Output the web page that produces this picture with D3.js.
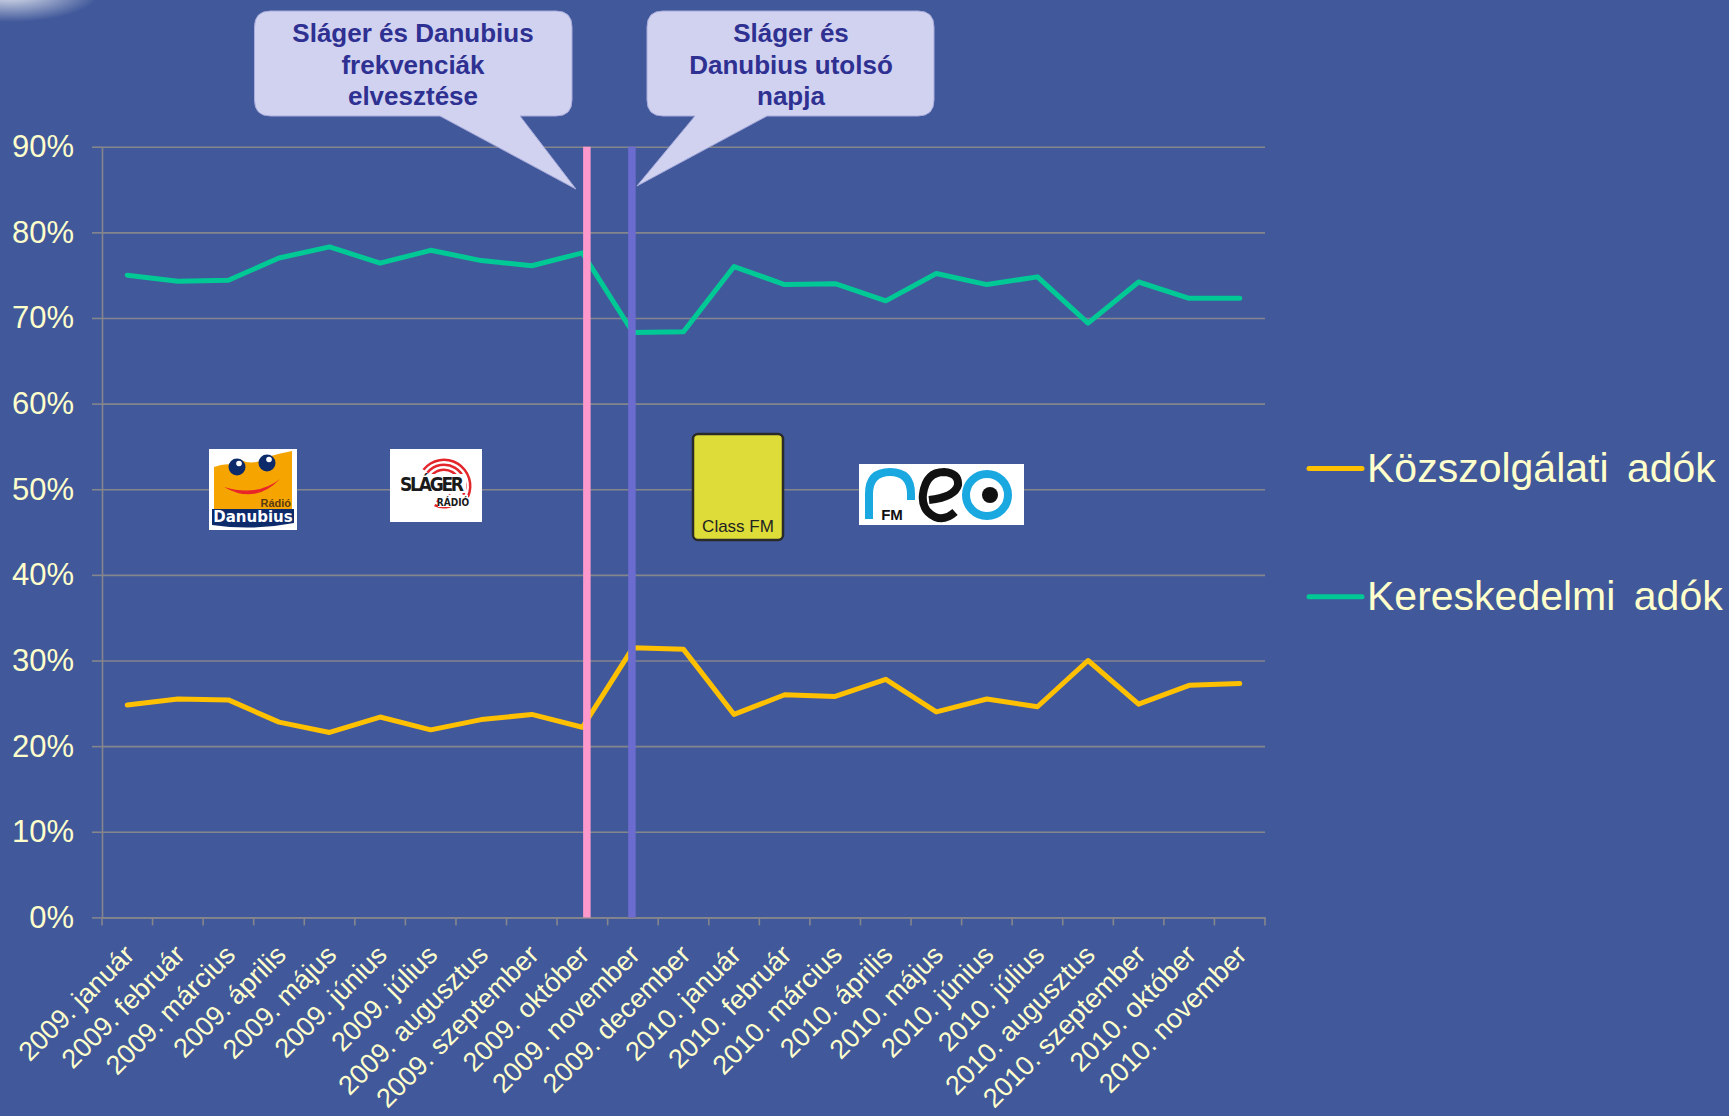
<!DOCTYPE html>
<html>
<head>
<meta charset="utf-8">
<script src="https://cdn.jsdelivr.net/npm/d3@7"></script>
<style>
	html, body { margin: 0; padding: 0; background: #41599b; overflow: hidden; }
	svg { display: block; }
	text { font-family: 'Liberation Sans', Arial, sans-serif; }
</style>
</head>
<body>
<div id="chart"></div>
<script>
var categories = [
	'2009. január', '2009. február', '2009. március', '2009. április', '2009. május', '2009. június',
	'2009. július', '2009. augusztus', '2009. szeptember', '2009. október', '2009. november', '2009. december',
	'2010. január', '2010. február', '2010. március', '2010. április', '2010. május', '2010. június',
	'2010. július', '2010. augusztus', '2010. szeptember', '2010. október', '2010. november'
]
var kozszolgalati = [24.8, 25.5, 25.4, 22.8, 21.6, 23.4, 21.9, 23.1, 23.7, 22.2, 31.5, 31.3,
	23.7, 26.0, 25.8, 27.8, 24.0, 25.5, 24.6, 30.0, 24.9, 27.1, 27.3]
var kereskedelmi = [75.0, 74.3, 74.4, 77.0, 78.3, 76.4, 77.9, 76.7, 76.1, 77.6, 68.3, 68.4,
	76.0, 73.9, 74.0, 72.0, 75.2, 73.9, 74.8, 69.4, 74.2, 72.3, 72.3]
var yTickValues = [0, 10, 20, 30, 40, 50, 60, 70, 80, 90]
var yTickLabels = ['0%', '10%', '20%', '30%', '40%', '50%', '60%', '70%', '80%', '90%']
var seriesNames = ['Közszolgálati adók', 'Kereskedelmi adók']
var eventMonths = ['2009. október', '2009. november']
var calloutLines = [
	['Sláger és Danubius', 'frekvenciák', 'elvesztése'],
	['Sláger és', 'Danubius utolsó', 'napja']
]

var width = 1729,
	height = 1116,
	plot = {left: 102, right: 1265, top: 146.7, bottom: 917.4},
	labelColor = '#ffffcc',
	gridColor = '#85858c',
	seriesColors = ['#ffc000', '#00c995'],
	eventColors = ['#ff99cc', '#6b6bd0'],
	svg, x, y, defs

svg = d3.select('#chart').append('svg')
	.attr('width', width)
	.attr('height', height)

defs = svg.append('defs')

var glow = defs.append('radialGradient').attr('id', 'glow')
glow.append('stop').attr('offset', 0).attr('stop-color', '#ffffff').attr('stop-opacity', 0.9)
glow.append('stop').attr('offset', 1).attr('stop-color', '#ffffff').attr('stop-opacity', 0)

svg.append('rect')
	.attr('width', width)
	.attr('height', height)
	.attr('fill', '#41599b')

svg.append('ellipse')
	.attr('cx', 10)
	.attr('cy', -8)
	.attr('rx', 90)
	.attr('ry', 30)
	.attr('fill', 'url(#glow)')

x = d3.scaleBand()
	.domain(categories)
	.range([plot.left, plot.right])

y = d3.scaleLinear()
	.domain([0, 90])
	.range([plot.bottom, plot.top])

function cx(c) { return x(c) + x.bandwidth() / 2 }

// gridlines
svg.append('g')
	.attr('transform', 'translate(' + plot.left + ',0)')
	.call(d3.axisLeft(y).tickValues(yTickValues).tickSize(-(plot.right - plot.left)).tickFormat(''))
	.call(function(g) {
		g.select('.domain').remove()
		g.selectAll('line').attr('stroke', gridColor).attr('stroke-width', 1.6)
	})

// y axis with labels
svg.append('g')
	.attr('transform', 'translate(' + plot.left + ',0)')
	.call(d3.axisLeft(y).tickValues(yTickValues).tickFormat(function(d, i) { return yTickLabels[i] })
		.tickSize(10).tickSizeOuter(0).tickPadding(18))
	.call(function(g) {
		g.select('.domain').attr('stroke', gridColor).attr('stroke-width', 1.6)
		g.selectAll('line').attr('stroke', gridColor).attr('stroke-width', 1.6)
		g.selectAll('text')
			.attr('fill', labelColor)
			.style('font-size', '31px')
	})

// x axis
svg.append('g')
	.attr('transform', 'translate(0,' + plot.bottom + ')')
	.call(d3.axisBottom(x).tickSize(0).tickSizeOuter(0))
	.call(function(g) {
		g.select('.domain').attr('stroke', gridColor).attr('stroke-width', 1.6)
		g.selectAll('text')
			.attr('y', 0)
			.attr('dy', null)
			.attr('transform', 'translate(8.5,39) rotate(-45)')
			.attr('fill', labelColor)
			.style('text-anchor', 'end')
			.style('font-size', '27px')
	})

var boundaries = categories.map(function(c) { return x(c) }).concat([x.range()[1]])
svg.append('g').selectAll('line')
	.data(boundaries)
	.join('line')
	.attr('x1', function(d) { return d })
	.attr('x2', function(d) { return d })
	.attr('y1', plot.bottom)
	.attr('y2', plot.bottom + 8)
	.attr('stroke', gridColor)
	.attr('stroke-width', 1.6)

// logos
var logos = svg.append('g')

function danubius(gx, gy) {
	var g = logos.append('g').attr('transform', 'translate(' + gx + ',' + gy + ')')
	g.append('rect').attr('width', 88).attr('height', 81).attr('fill', '#ffffff')
	g.append('path')
		.attr('d', 'M5,18 Q16,14 24,16 L30,10 Q44,18 58,8 Q72,4 83,2 L83,64 L5,64 Z')
		.attr('fill', '#f6a500')
	g.append('circle').attr('cx', 28).attr('cy', 18).attr('r', 8.5).attr('fill', '#0d2a6b')
	g.append('circle').attr('cx', 58).attr('cy', 14).attr('r', 8.5).attr('fill', '#0d2a6b')
	g.append('circle').attr('cx', 30).attr('cy', 14.5).attr('r', 2.8).attr('fill', '#ffffff')
	g.append('circle').attr('cx', 60).attr('cy', 10.5).attr('r', 2.8).attr('fill', '#ffffff')
	g.append('path')
		.attr('d', 'M15,38 Q46,56 71,30 Q48,48 15,38 Z')
		.attr('fill', '#e8262a')
	g.append('text')
		.attr('x', 82).attr('y', 58)
		.attr('text-anchor', 'end')
		.attr('fill', '#5a3a10')
		.style('font-size', '11px')
		.style('font-weight', 'bold')
		.text('Rádió')
	g.append('path')
		.attr('d', 'M3,60 L85,60 L85,74 Q44,82 3,76 Z')
		.attr('fill', '#0d2a6b')
	g.append('text')
		.attr('x', 44).attr('y', 73)
		.attr('text-anchor', 'middle')
		.attr('fill', '#ffffff')
		.style('font-family', "'DejaVu Sans', sans-serif")
		.style('font-size', '15px')
		.style('font-weight', 'bold')
		.text('Danubius')
}

function slager(gx, gy) {
	var g = logos.append('g').attr('transform', 'translate(' + gx + ',' + gy + ')')
	g.append('rect').attr('width', 92).attr('height', 73).attr('fill', '#ffffff')
	var arc = d3.arc()
	;[[15, 17.5], [20, 22.5], [25, 27.5]].forEach(function(r) {
		g.append('path')
			.attr('transform', 'translate(54,37)')
			.attr('d', arc({innerRadius: r[0], outerRadius: r[1], startAngle: -0.9, endAngle: 2.0}))
			.attr('fill', '#e3262b')
		g.append('path')
			.attr('transform', 'translate(54,37)')
			.attr('d', arc({innerRadius: r[0] - 5, outerRadius: r[1] - 5, startAngle: 2.5, endAngle: 3.6}))
			.attr('fill', '#e3262b')
	})
	g.append('rect').attr('x', 8).attr('y', 25).attr('width', 68).attr('height', 19).attr('fill', '#ffffff')
	g.append('rect').attr('x', 48).attr('y', 46).attr('width', 30).attr('height', 12).attr('fill', '#ffffff')
	g.append('text')
		.attr('x', 42).attr('y', 42)
		.attr('text-anchor', 'middle')
		.attr('textLength', 64)
		.attr('fill', '#1a1a1a')
		.style('font-family', "'DejaVu Sans Condensed', 'Liberation Sans Narrow', sans-serif")
		.style('font-size', '19px')
		.style('font-weight', 'bold')
		.text('SLÁGER')
	g.append('text')
		.attr('x', 63).attr('y', 57)
		.attr('text-anchor', 'middle')
		.attr('fill', '#1a1a1a')
		.style('font-family', "'DejaVu Sans Condensed', sans-serif")
		.style('font-size', '10px')
		.style('font-weight', 'bold')
		.text('RÁDIÓ')
}

function classfm(gx, gy) {
	var g = logos.append('g').attr('transform', 'translate(' + gx + ',' + gy + ')')
	g.append('rect')
		.attr('x', 1).attr('y', 1)
		.attr('width', 90).attr('height', 106)
		.attr('rx', 5)
		.attr('fill', '#dedc38')
		.attr('stroke', '#2a2a2a')
		.attr('stroke-width', 2.5)
	g.append('text')
		.attr('x', 46).attr('y', 99)
		.attr('text-anchor', 'middle')
		.attr('fill', '#222222')
		.style('font-size', '17px')
		.text('Class FM')
}

function neofm(gx, gy) {
	var g = logos.append('g').attr('transform', 'translate(' + gx + ',' + gy + ')')
	g.append('rect').attr('width', 165).attr('height', 61).attr('fill', '#ffffff')
	g.append('path')
		.attr('d', 'M10,55 L10,30 Q10,8 31,8 Q52,8 52,30 L52,36')
		.attr('fill', 'none')
		.attr('stroke', '#19a8e0')
		.attr('stroke-width', 8)
	g.append('text')
		.attr('x', 33).attr('y', 56)
		.attr('text-anchor', 'middle')
		.attr('fill', '#111111')
		.style('font-size', '15px')
		.style('font-weight', 'bold')
		.text('FM')
	g.append('path')
		.attr('d', 'M96,48 Q86,57 76,53 Q62,46 64,30 Q67,8 85,8 Q100,9 99,21 Q96,33 70,36')
		.attr('fill', 'none')
		.attr('stroke', '#111111')
		.attr('stroke-width', 8)
	g.append('circle')
		.attr('cx', 128).attr('cy', 31).attr('r', 21)
		.attr('fill', '#ffffff')
		.attr('stroke', '#19a8e0')
		.attr('stroke-width', 8)
	g.append('circle').attr('cx', 131).attr('cy', 31).attr('r', 8).attr('fill', '#111111')
}

danubius(209, 449)
slager(390, 449)
classfm(692, 433)
neofm(859, 464)

// series lines
var line = d3.line()
	.x(function(d, i) { return cx(categories[i]) })
	.y(function(d) { return y(d) })

;[kozszolgalati, kereskedelmi].forEach(function(s, i) {
	svg.append('path')
		.datum(s)
		.attr('d', line)
		.attr('fill', 'none')
		.attr('stroke', seriesColors[i])
		.attr('stroke-width', 5)
		.attr('stroke-linejoin', 'round')
		.attr('stroke-linecap', 'round')
})

// event markers
var eventX = [cx(eventMonths[0]) + 4.5, cx(eventMonths[1]) - 1]
svg.append('g').selectAll('line')
	.data(eventMonths)
	.join('line')
	.attr('x1', function(d, i) { return eventX[i] })
	.attr('x2', function(d, i) { return eventX[i] })
	.attr('y1', y(90))
	.attr('y2', y(0))
	.attr('stroke', function(d, i) { return eventColors[i] })
	.attr('stroke-width', 7.5)

// callouts
function calloutPath(x0, y0, x1, y1, r, ta, tb, tx, ty) {
	return 'M' + (x0 + r) + ',' + y0 +
		'H' + (x1 - r) + 'Q' + x1 + ',' + y0 + ' ' + x1 + ',' + (y0 + r) +
		'V' + (y1 - r) + 'Q' + x1 + ',' + y1 + ' ' + (x1 - r) + ',' + y1 +
		'H' + tb + 'L' + tx + ',' + ty + 'L' + ta + ',' + y1 +
		'H' + (x0 + r) + 'Q' + x0 + ',' + y1 + ' ' + x0 + ',' + (y1 - r) +
		'V' + (y0 + r) + 'Q' + x0 + ',' + y0 + ' ' + (x0 + r) + ',' + y0 + 'Z'
}

var callouts = [
	{box: [254.5, 11, 572, 116], tail: [440, 520], tip: [eventX[0] - 11, 189], cx: 413},
	{box: [647, 11, 934, 116], tail: [695, 767], tip: [eventX[1] + 5, 186], cx: 791}
]

callouts.forEach(function(c, i) {
	svg.append('path')
		.attr('d', calloutPath(c.box[0], c.box[1], c.box[2], c.box[3], 16, c.tail[0], c.tail[1], c.tip[0], c.tip[1]))
		.attr('fill', '#d1d2ef')
		.attr('stroke', '#a9acdc')
		.attr('stroke-width', 1)
	svg.append('text')
		.attr('text-anchor', 'middle')
		.attr('fill', '#2e3092')
		.style('font-size', '26px')
		.style('font-weight', 'bold')
		.selectAll('tspan')
		.data(calloutLines[i])
		.join('tspan')
		.attr('x', c.cx)
		.attr('y', function(d, j) { return 42 + j * 31.7 })
		.text(function(d) { return d })
})

// legend
var legend = svg.append('g').selectAll('g')
	.data(seriesNames)
	.join('g')
	.attr('transform', function(d, i) { return 'translate(1309,' + (468.5 + i * 128.2) + ')' })

legend.append('line')
	.attr('x1', 0)
	.attr('x2', 53)
	.attr('stroke', function(d, i) { return seriesColors[i] })
	.attr('stroke-width', 5)
	.attr('stroke-linecap', 'round')

legend.append('text')
	.attr('x', 58)
	.attr('y', 13.5)
	.attr('fill', labelColor)
	.style('font-size', '41px')
	.style('word-spacing', '7px')
	.text(function(d) { return d })
</script>
</body>
</html>
